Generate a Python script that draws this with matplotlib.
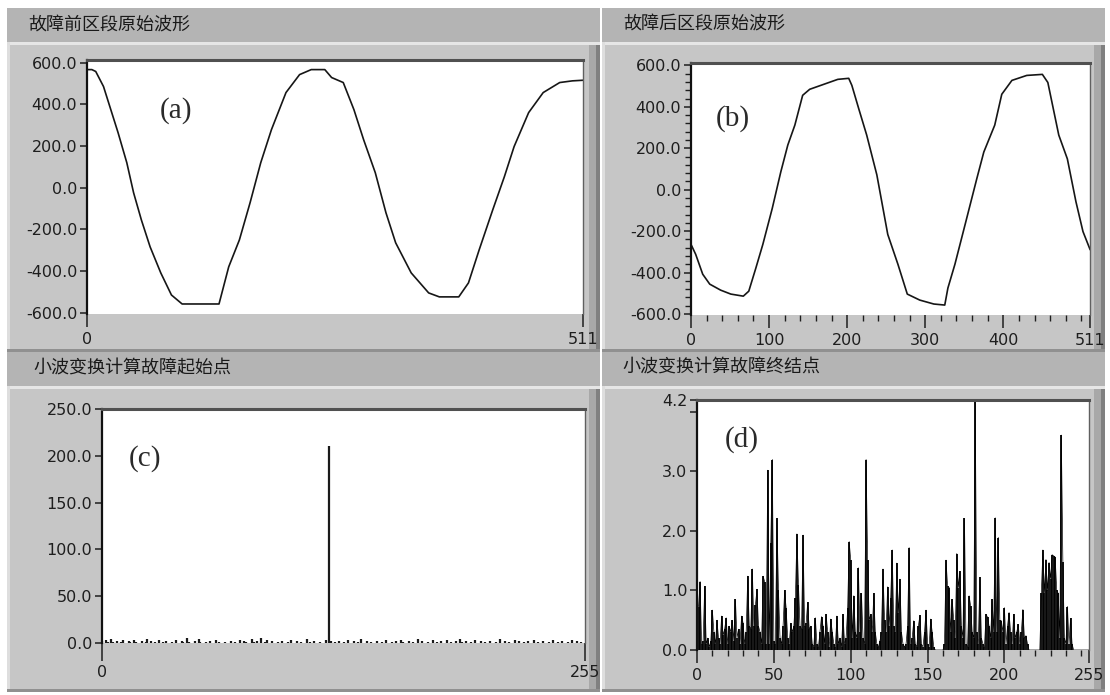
import numpy as np
import matplotlib
matplotlib.use("Agg")
import matplotlib.pyplot as plt
from matplotlib.patches import Rectangle
from matplotlib.ticker import FixedLocator, MultipleLocator

plt.rcParams['font.family'] = ['DejaVu Sans']
CJK = ['Noto Sans CJK SC', 'DejaVu Sans']

W, H = 1110, 695

# --- raw section waveforms (sample index, amplitude) ---
pre_idx = [0, 5, 9, 17, 32, 41, 48, 56, 65, 76, 87, 98, 136, 146, 157, 168, 179,
           190, 205, 219, 231, 245, 252, 264, 275, 285, 297, 308, 318, 334, 352,
           363, 383, 393, 404, 418, 430, 440, 455, 470, 487, 500, 511]
pre_val = [566, 566, 557, 485, 264, 120, -24, -154, -283, -408, -514, -557, -557,
           -379, -250, -72, 120, 278, 456, 542, 566, 566, 528, 504, 374, 230, 72,
           -120, -264, -408, -504, -523, -523, -456, -298, -106, 53, 197, 360, 456,
           504, 512, 515]

post_idx = [0, 6, 15, 24, 38, 51, 67, 74, 83, 92, 104, 115, 124, 133, 143, 152,
            170, 188, 202, 206, 215, 225, 238, 252, 265, 277, 293, 311, 325, 329,
            338, 352, 366, 375, 389, 398, 411, 430, 450, 457, 471, 482, 493, 502, 511]
post_val = [-264, -312, -408, -456, -485, -504, -514, -490, -379, -264, -91, 86,
            216, 312, 456, 485, 509, 533, 538, 504, 389, 264, 72, -216, -360, -504,
            -533, -552, -557, -475, -360, -154, 53, 182, 312, 461, 528, 552, 557,
            518, 264, 149, -58, -202, -288]

# --- wavelet detail coefficients, 256 points each ---
start_coef = [
    2, 0, 3, 1, 0, 4, 1, 0, 2, 0, 1, 3, 0, 0, 2, 1,
    0, 3, 1, 0, 0, 2, 0, 1, 4, 0, 2, 0, 1, 0, 3, 0,
    1, 0, 2, 0, 0, 1, 0, 3, 0, 0, 2, 1, 0, 5, 1, 0,
    0, 2, 0, 4, 1, 0, 0, 1, 0, 2, 0, 0, 3, 0, 1, 0,
    0, 1, 0, 0, 2, 0, 1, 0, 0, 3, 0, 2, 1, 0, 0, 4,
    1, 0, 2, 0, 5, 0, 1, 3, 0, 0, 2, 0, 0, 1, 0, 2,
    0, 0, 1, 0, 3, 0, 0, 2, 0, 1, 0, 0, 4, 0, 1, 0,
    2, 0, 0, 1, 0, 0, 3, 0, 210, 2, 0, 1, 0, 2, 0, 0,
    1, 0, 3, 0, 0, 2, 0, 1, 0, 4, 0, 0, 2, 0, 1, 0,
    0, 2, 0, 0, 1, 0, 3, 0, 0, 1, 0, 2, 0, 0, 3, 1,
    0, 0, 2, 0, 1, 0, 0, 4, 0, 2, 0, 0, 1, 0, 0, 3,
    0, 1, 0, 2, 0, 0, 3, 0, 1, 0, 0, 2, 0, 4, 1, 0,
    2, 0, 0, 1, 0, 3, 0, 0, 2, 0, 1, 0, 0, 2, 0, 0,
    1, 0, 4, 0, 0, 2, 0, 1, 0, 0, 3, 0, 2, 0, 0, 1,
    0, 2, 0, 0, 3, 0, 1, 0, 0, 2, 0, 0, 1, 0, 3, 0,
    0, 1, 0, 2, 0, 0, 1, 0, 3, 0, 0, 2, 0, 1, 0, 0]

end_coef = [
    0.75, 0.73, 1.15, 0.10, 0.15, 1.07, 0.10, 0.20, 0.05, 0.15, 0.67, 0.30, 0.10, 0.50, 0.20, 0.10,
    0.57, 0.25, 0.35, 0.54, 0.10, 0.40, 0.30, 0.50, 0.15, 0.85, 0.20, 0.35, 0.10, 0.57, 0.45, 0.10,
    0.30, 1.24, 0.40, 0.35, 1.36, 0.40, 0.75, 1.02, 0.40, 0.30, 0.10, 1.24, 1.15, 0.10, 3.02, 0.10,
    1.80, 3.20, 0.15, 0.10, 2.21, 1.00, 0.20, 0.10, 0.40, 1.00, 0.70, 0.20, 0.10, 0.45, 0.30, 0.40,
    0.87, 1.95, 1.10, 0.40, 0.35, 1.93, 0.40, 0.45, 0.80, 0.35, 0.40, 0.10, 0.05, 0.54, 0.10, 0.05,
    0.30, 0.56, 0.40, 0.10, 0.60, 0.30, 0.05, 0.52, 0.30, 0.10, 0.05, 0.57, 0.10, 0.20, 0.05, 0.60,
    0.10, 0.20, 0.70, 1.82, 1.51, 0.20, 0.91, 0.30, 0.20, 1.38, 0.30, 0.95, 0.20, 0.10, 3.20, 1.51,
    0.50, 0.60, 0.30, 0.95, 0.30, 0.10, 0.05, 0.15, 0.30, 1.36, 0.50, 0.30, 1.06, 0.40, 0.87, 1.68,
    0.40, 0.30, 1.46, 0.62, 1.19, 0.30, 0.10, 0.05, 0.10, 0.40, 1.72, 0.10, 0.20, 0.49, 0.10, 0.05,
    0.40, 0.58, 0.10, 0.05, 0.30, 0.67, 0.10, 0.05, 0.52, 0.30, 0.05, 0.00, 0.00, 0.00, 0.00, 0.00,
    0.00, 0.10, 1.51, 1.07, 1.05, 0.30, 0.85, 0.50, 0.20, 1.62, 1.05, 1.32, 0.40, 0.20, 2.21, 0.10,
    0.05, 0.91, 0.74, 0.30, 0.20, 4.20, 0.30, 0.10, 1.22, 0.20, 0.10, 0.05, 0.60, 0.55, 0.40, 0.20,
    0.85, 0.30, 2.22, 0.30, 1.89, 0.50, 0.49, 0.30, 0.71, 0.10, 0.40, 0.63, 0.30, 0.10, 0.60, 0.20,
    0.30, 0.43, 0.10, 0.30, 0.68, 0.20, 0.24, 0.10, 0.00, 0.00, 0.00, 0.00, 0.00, 0.00, 0.00, 0.00,
    0.95, 1.68, 0.96, 1.52, 1.00, 1.47, 1.20, 1.60, 1.58, 1.56, 1.00, 0.95, 0.20, 3.61, 1.48, 0.20,
    0.10, 0.73, 0.10, 0.53, 0.10, 0.00, 0.00, 0.00, 0.00, 0.00, 0.00, 0.00, 0.00, 0.00, 0.00, 0.00]

titles = ["故障前区段原始波形", "故障后区段原始波形",
          "小波变换计算故障起始点", "小波变换计算故障终结点"]
tags = ["(a)", "(b)", "(c)", "(d)"]

fig = plt.figure(figsize=(W / 100, H / 100), dpi=100, facecolor='white')


def fig_rect(x0, y0, x1, y1, color):
    fig.patches.append(Rectangle((x0 / W, 1 - y1 / H), (x1 - x0) / W, (y1 - y0) / H,
                                 transform=fig.transFigure, facecolor=color,
                                 edgecolor='none', zorder=-5))


def frame(x0, y0, x1, y1, bar=34):
    # raised front-panel box: caption strip on top, bevelled body below
    fig_rect(x0, y0, x1, y0 + bar, '#b4b4b4')
    fig_rect(x0, y0 + bar, x1, y1, '#c6c6c6')
    fig_rect(x0, y0 + bar, x1, y0 + bar + 3, '#e6e6e6')
    fig_rect(x0, y0 + bar, x0 + 3, y1, '#dedede')
    fig_rect(x1 - 11, y0 + bar + 3, x1, y1, '#a8a8a8')
    fig_rect(x1 - 4, y0 + bar + 3, x1, y1, '#808080')
    fig_rect(x0, y1 - 3, x1, y1, '#909090')


def add_plot(x0, y0, x1, y1):
    ax = fig.add_axes([x0 / W, 1 - y1 / H, (x1 - x0) / W, (y1 - y0) / H])
    ax.set_facecolor('white')
    ax.spines['left'].set_color('#111111')
    ax.spines['left'].set_linewidth(1.6)
    ax.spines['top'].set_color('#505050')
    ax.spines['top'].set_linewidth(2.2)
    ax.spines['right'].set_color('#606060')
    ax.spines['right'].set_linewidth(1.0)
    ax.spines['bottom'].set_visible(False)
    ax.tick_params(which='major', direction='out', colors='#1e1e1e',
                   labelsize=11.5, width=1.1)
    ax.tick_params(axis='y', which='major', length=5, pad=2)
    ax.tick_params(axis='x', which='major', length=9, pad=4)
    ax.tick_params(which='minor', direction='out', length=4, width=1.0,
                   colors='#1e1e1e')
    return ax


boxes = [(7, 8, 600, 352), (602, 8, 1105, 352),
         (7, 352, 600, 692), (602, 352, 1105, 692)]
for b in boxes:
    frame(*b)

title_pos = [(28, 26), (623, 25), (33, 368), (622, 368)]
for (tx, ty), s in zip(title_pos, titles):
    fig.text(tx / W, 1 - ty / H, s, family=CJK, fontsize=13, color='#1a1a1a',
             va='center', ha='left')

# (a) before fault
ax_a = add_plot(87, 60, 583, 314)
ax_a.plot(pre_idx, pre_val, color='#161616', lw=1.2)
ax_a.set_xlim(0, 511)
ax_a.set_ylim(-605, 612)
ax_a.yaxis.set_major_locator(FixedLocator([-600, -400, -200, 0, 200, 400, 600]))
ax_a.set_yticklabels(['-600.0', '-400.0', '-200.0', '0.0', '200.0', '400.0', '600.0'])
ax_a.xaxis.set_major_locator(FixedLocator([0, 511]))
ax_a.set_xticklabels(['0', '511'])

# (b) after fault
ax_b = add_plot(691, 63, 1090, 315)
ax_b.plot(post_idx, post_val, color='#161616', lw=1.2)
ax_b.set_xlim(0, 511)
ax_b.set_ylim(-605, 612)
ax_b.yaxis.set_major_locator(FixedLocator([-600, -400, -200, 0, 200, 400, 600]))
ax_b.set_yticklabels(['-600.0', '-400.0', '-200.0', '0.0', '200.0', '400.0', '600.0'])
ax_b.yaxis.set_minor_locator(MultipleLocator(40))
ax_b.xaxis.set_major_locator(FixedLocator([0, 100, 200, 300, 400, 511]))
ax_b.set_xticklabels(['0', '100', '200', '300', '400', '511'])
ax_b.xaxis.set_minor_locator(MultipleLocator(20))

# (c) wavelet start point: one stroke per coefficient
ax_c = add_plot(102, 409, 585, 643)
n_c = np.arange(len(start_coef))
ax_c.vlines(n_c, 0, start_coef, color='#1a1a1a', lw=1.6)
ax_c.set_xlim(0, 255)
ax_c.set_ylim(0, 250)
ax_c.yaxis.set_major_locator(FixedLocator([0, 50, 100, 150, 200, 250]))
ax_c.set_yticklabels(['0.0', '50.0', '100.0', '150.0', '200.0', '250.0'])
ax_c.xaxis.set_major_locator(FixedLocator([0, 255]))
ax_c.set_xticklabels(['0', '255'])
ax_c.tick_params(axis='x', which='major', length=13, pad=3)

# (d) wavelet end point
ax_d = add_plot(697, 400, 1089, 650)
n_d = np.arange(len(end_coef))
ax_d.vlines(n_d, 0, end_coef, color='#000000', lw=1.3)
ax_d.plot(n_d, end_coef, color='#000000', lw=0.5)
ax_d.set_xlim(0, 255)
ax_d.set_ylim(0, 4.2)
ax_d.yaxis.set_major_locator(FixedLocator([0, 1, 2, 3, 4, 4.2]))
ax_d.set_yticklabels(['0.0', '1.0', '2.0', '3.0', '', '4.2'])
ax_d.xaxis.set_major_locator(FixedLocator([0, 50, 100, 150, 200, 255]))
ax_d.set_xticklabels(['0', '50', '100', '150', '200', '255'])
ax_d.xaxis.set_minor_locator(MultipleLocator(10))

tag_pos = [(0.18, 0.80), (0.105, 0.78), (0.09, 0.79), (0.115, 0.84)]
for ax, t, (tx, ty) in zip([ax_a, ax_b, ax_c, ax_d], tags, tag_pos):
    ax.text(tx, ty, t, transform=ax.transAxes, family='Liberation Serif',
            fontsize=21, color='#2a2a2a', ha='center', va='center')

fig.savefig('out.png', dpi=100, facecolor=fig.get_facecolor())
